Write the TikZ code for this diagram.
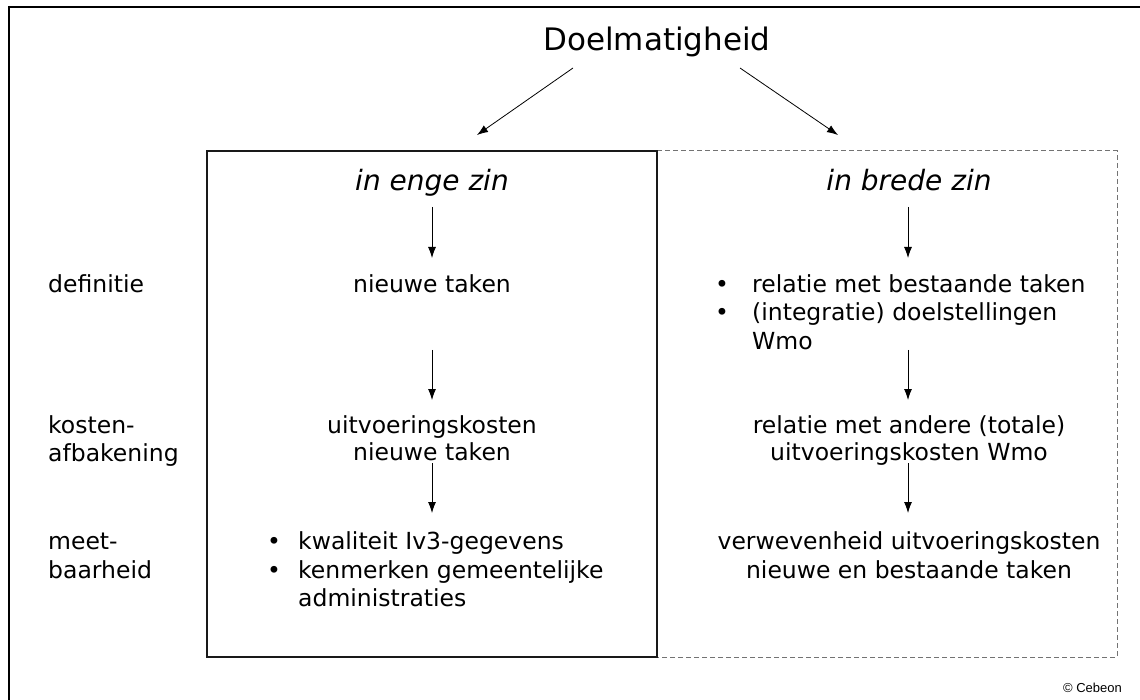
\documentclass[tikz,border=0pt]{standalone}
\usepackage{fontspec}
\setmainfont{DejaVu Sans}
\newfontfamily\arialfont{Liberation Sans}
\usetikzlibrary{arrows.meta}
\begin{document}
\begin{tikzpicture}[x=1pt,y=-1pt,
  body/.style={font=\fontsize{23.5}{28}\selectfont, anchor=base, inner sep=0pt},
  lbody/.style={body, anchor=base west},
  ttl/.style={font=\fontsize{28}{34}\selectfont\itshape, anchor=base, inner sep=0pt},
  bul/.style={font=\fontsize{23.5}{28}\selectfont, anchor=base, inner sep=0pt},
  arr/.style={-{Latex[length=11pt,width=8pt]}, line width=0.8pt},
  frame/.style={line width=2.5pt},
  solidbox/.style={line width=2pt, draw=black!90},
  dashbox/.style={line width=1pt, draw=black!55, dash pattern=on 5pt off 3pt}]
\useasboundingbox (0,0) rectangle (1140,700);
% outer frame (top and left)
\draw[frame] (8,7) -- (1140,7);
\draw[frame] (9,6) -- (9,700);
% boxes
\draw[dashbox] (657,151) -- (1117,151) -- (1117,657) -- (657,657);
\draw[solidbox] (207,151) rectangle (657,657);
% top
\node[font=\fontsize{31}{36}\selectfont, anchor=base, inner sep=0pt] (doel) at (657,51) {Doelmatigheid};
\coordinate (dl) at (573,68);
\coordinate (dr) at (740,68);
\coordinate (dle) at (477,135);
\coordinate (dre) at (838,135);
\draw[arr] (dl) -- (dle);
\draw[arr] (dr) -- (dre);
% titles
\node[ttl] (tl) at (432,191) {in enge zin};
\node[ttl] (tr) at (909,191) {in brede zin};
% left labels
\node[lbody] (lab1) at (48,293) {definitie};
\node[lbody] (lab2a) at (48,433) {kosten-};
\node[lbody] (lab2b) at (48,461) {afbakening};
\node[lbody] (lab3a) at (48,549) {meet-};
\node[lbody] (lab3b) at (48,578) {baarheid};
% left column
\node[body] (l1) at (432,293) {nieuwe taken};
\node[body] (l2a) at (432,433) {uitvoeringskosten};
\node[body] (l2b) at (432,460) {nieuwe taken};
\node[bul] (lb1) at (274,549) {•};
\node[lbody] (l3a) at (298,549) {kwaliteit Iv3-gegevens};
\node[bul] (lb2) at (274,578) {•};
\node[lbody] (l3b) at (298,578) {kenmerken gemeentelijke};
\node[lbody] (l3c) at (298,606) {administraties};
% right column
\node[bul] (rb1) at (722,293) {•};
\node[lbody] (r1a) at (752,293) {relatie met bestaande taken};
\node[bul] (rb2) at (722,321) {•};
\node[lbody] (r1b) at (752,321) {(integratie) doelstellingen};
\node[lbody] (r1c) at (752,349) {Wmo};
\node[body] (r2a) at (909,433) {relatie met andere (totale)};
\node[body] (r2b) at (909,460) {uitvoeringskosten Wmo};
\node[body] (r3a) at (909,549) {verwevenheid uitvoeringskosten};
\node[body] (r3b) at (909,578) {nieuwe en bestaande taken};
% vertical arrows
\coordinate (la1s) at (432,207); \coordinate (la1e) at (432,258);
\coordinate (la2s) at (432,350); \coordinate (la2e) at (432,400);
\coordinate (la3s) at (432,463); \coordinate (la3e) at (432,513);
\coordinate (ra1s) at (908,207); \coordinate (ra1e) at (908,258);
\coordinate (ra2s) at (908,350); \coordinate (ra2e) at (908,400);
\coordinate (ra3s) at (908,463); \coordinate (ra3e) at (908,513);
\draw[arr] (la1s) -- (la1e);
\draw[arr] (la2s) -- (la2e);
\draw[arr] (la3s) -- (la3e);
\draw[arr] (ra1s) -- (ra1e);
\draw[arr] (ra2s) -- (ra2e);
\draw[arr] (ra3s) -- (ra3e);
% copyright
\node[font=\arialfont\fontsize{13}{15}\selectfont, anchor=base east, inner sep=0pt] (copy) at (1122,692) {© Cebeon};
\end{tikzpicture}
\end{document}
